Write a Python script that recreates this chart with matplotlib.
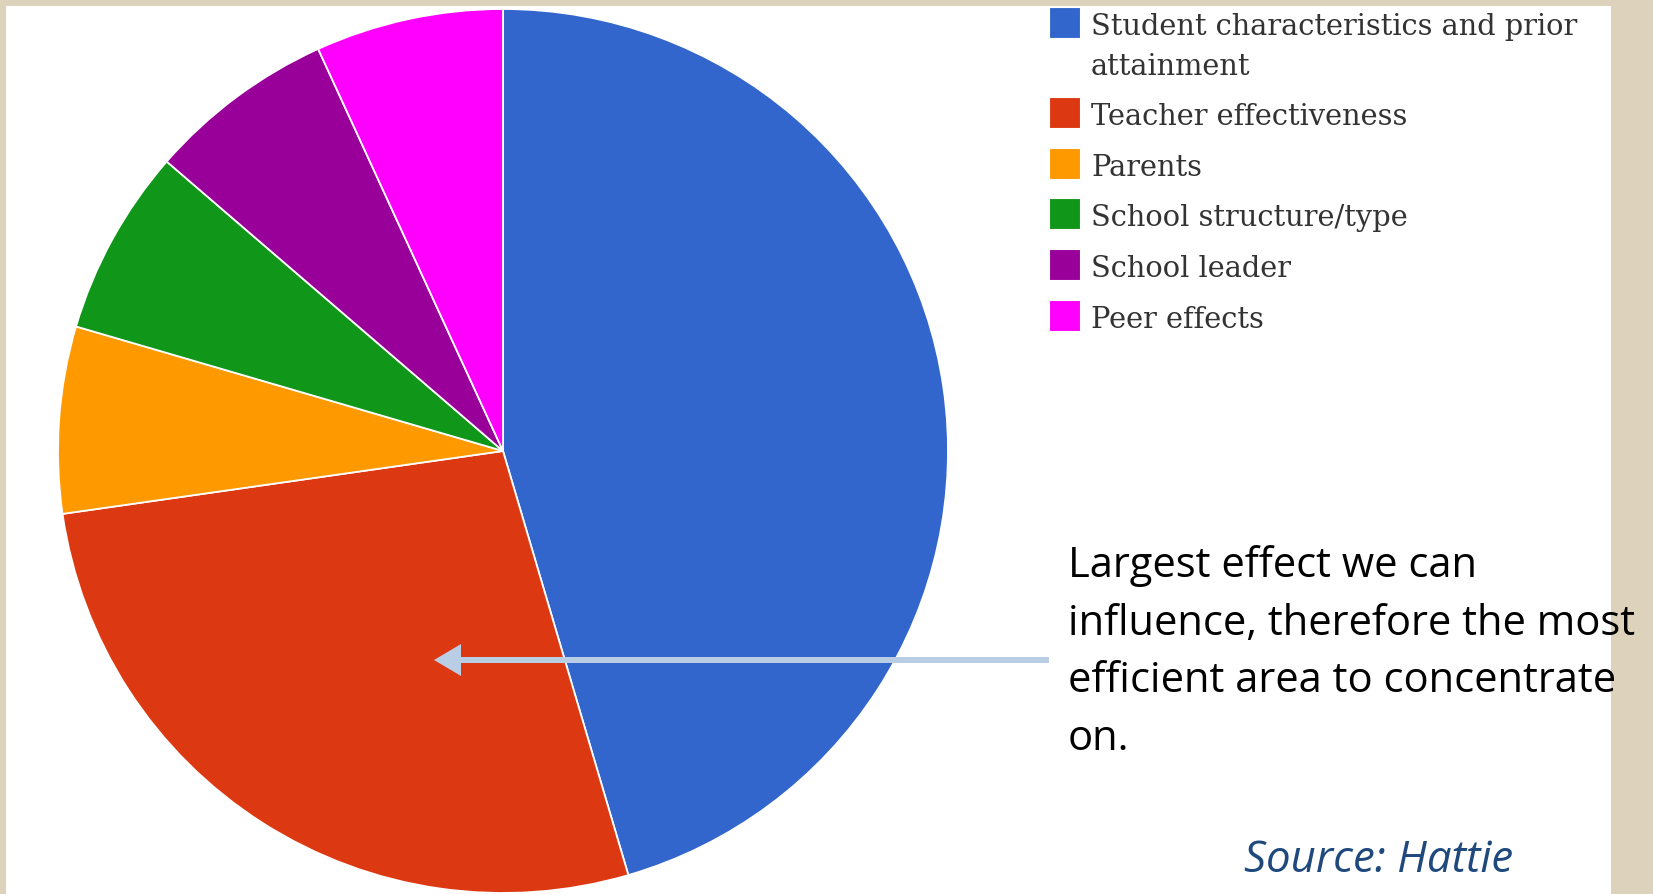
import matplotlib
matplotlib.use("Agg")
import matplotlib.pyplot as plt
from matplotlib.patches import Rectangle, FancyArrow

# data (Hattie: share of variance in achievement)
labels = ["Student characteristics and prior\nattainment",
          "Teacher effectiveness",
          "Parents",
          "School structure/type",
          "School leader",
          "Peer effects"]
values = [50, 30, 7.5, 7.5, 7.5, 7.5]
colors = ["#3366CC", "#DC3912", "#FF9900", "#109618", "#990099", "#FF00FF"]

note_lines = ["Largest effect we can",
              "influence, therefore the most",
              "efficient area to concentrate",
              "on."]
source = "Source: Hattie"

W, H = 1653, 895
fig = plt.figure(figsize=(W / 100, H / 100), dpi=100)
fig.patch.set_facecolor("#DDD3BC")

# background panel (pixel coords, y down)
bg = fig.add_axes([0, 0, 1, 1])
bg.set_xlim(0, W); bg.set_ylim(H, 0); bg.axis("off")
bg.add_patch(Rectangle((6, 7), 1605, 900, facecolor="white", edgecolor="none"))

# pie, centre (503, 452), radius ~444 px (source image slightly stretched)
cx, cy, rx, ry = 503, 452, 445, 442
pax = fig.add_axes([(cx - rx) / W, 1 - (cy + ry) / H, 2 * rx / W, 2 * ry / H])
pax.pie(values, colors=colors, startangle=90, counterclock=False,
        wedgeprops=dict(edgecolor="white", linewidth=1.3))
pax.set_xlim(-1, 1); pax.set_ylim(-1, 1)
pax.set_aspect("auto")
pax.axis("off")

# overlay: legend, note, arrow, source
ov = fig.add_axes([0, 0, 1, 1])
ov.set_xlim(0, W); ov.set_ylim(H, 0); ov.axis("off")
ov.patch.set_alpha(0)

y = 23
for lab, col in zip(labels, colors):
    ov.add_patch(Rectangle((1049, y - 15.5), 31, 31, facecolor=col,
                           edgecolor="white", linewidth=0.8))
    for k, line in enumerate(lab.split("\n")):
        ov.text(1091, y + 11.5 + 40 * k, line, family="DejaVu Serif",
                fontsize=20.8, color="#333333", va="baseline", ha="left")
    y += 50.6 + 40 * (len(lab.split("\n")) - 1)

ov.add_patch(FancyArrow(1049, 661, -615, 0, width=6, head_width=32,
                        head_length=27, length_includes_head=True,
                        color="#B9CDE5", linewidth=0))

for k, line in enumerate(note_lines):
    ov.text(1068, 577 + 57.5 * k, line, family="Open Sans", fontsize=30,
            color="black", va="baseline", ha="left")

ov.text(1244, 872, source, family="Open Sans", style="italic", fontsize=31.5,
        color="#1F497D", va="baseline", ha="left")

fig.savefig("out.png", dpi=100, facecolor=fig.get_facecolor())
